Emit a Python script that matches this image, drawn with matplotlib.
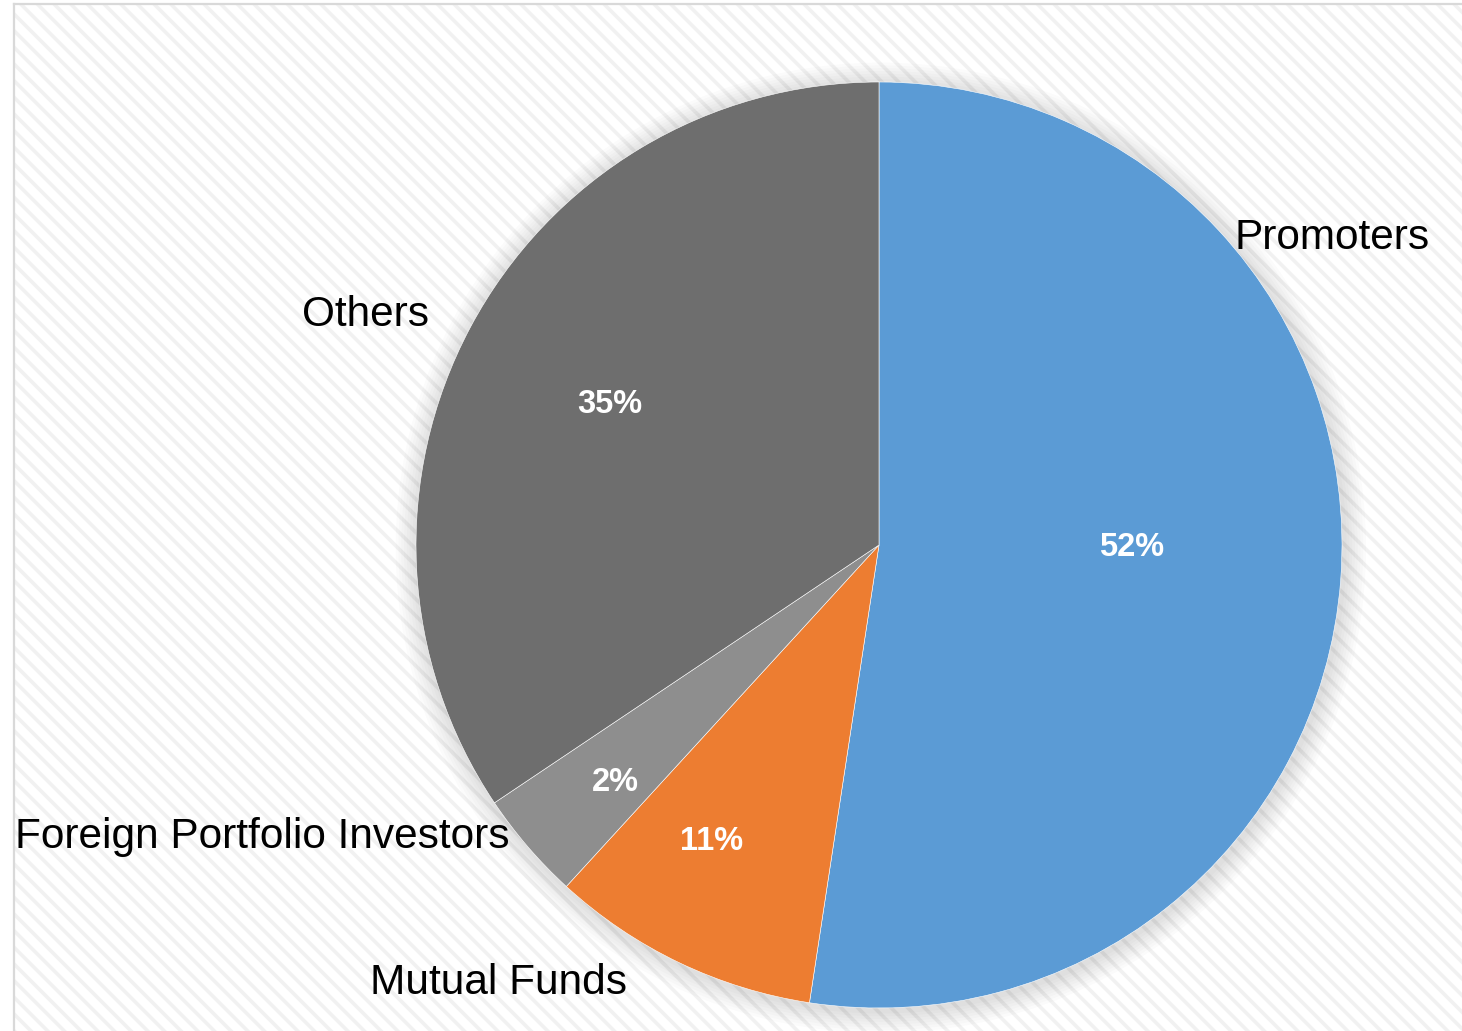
import matplotlib.pyplot as plt
from matplotlib.patches import Rectangle, Circle

# shareholding pattern
categories = ['Promoters', 'Mutual Funds', 'Foreign Portfolio Investors', 'Others']
shares = [52.4, 9.4, 3.8, 34.4]          # slice sizes as drawn
pct_labels = ['52%', '11%', '2%', '35%']  # printed labels
colors = ['#5B9BD5', '#ED7D31', '#8E8E8E', '#6E6E6E']

plt.rcParams['font.family'] = ['Liberation Sans', 'DejaVu Sans']
plt.rcParams['hatch.linewidth'] = 2.6

W, H = 1462, 1031
cx, cy, R = 879, 545, 463   # pie centre / radius in pixels

fig = plt.figure(figsize=(W / 100, H / 100), dpi=100)

# hatched background with light frame
bg = Rectangle((14 / W, 0), 1, 1 - 4 / H, transform=fig.transFigure,
               facecolor='white', edgecolor='#f1f1f1', hatch='\\\\',
               linewidth=0, zorder=-10)
fig.patches.append(bg)
fig.add_artist(plt.Line2D([13.5 / W, 13.5 / W], [0, 1 - 3.5 / H],
                          transform=fig.transFigure, color='#d9d9d9', lw=1.6, zorder=-5))
fig.add_artist(plt.Line2D([13.5 / W, 1], [1 - 3.5 / H, 1 - 3.5 / H],
                          transform=fig.transFigure, color='#d9d9d9', lw=1.6, zorder=-5))

ax = fig.add_axes([0, 0, 1, 1])
ax.set_zorder(5)
ax.patch.set_visible(False)

# soft shadow
for k in range(8):
    ax.add_patch(Circle((0.004, -0.006), 1.0 + 0.006 * (k + 1),
                        color='black', alpha=0.014, lw=0, zorder=1))

wedges, _ = ax.pie(shares, colors=colors, startangle=90, counterclock=False,
                   radius=1.0, center=(0, 0), frame=True,
                   wedgeprops=dict(edgecolor='white', linewidth=0.4, zorder=2))
ax.set_xlim(-cx / R, (W - cx) / R)
ax.set_ylim((cy - H) / R, cy / R)
ax.set_aspect('equal')
ax.axis('off')

# percentage labels inside slices
pct_pos = [(0.546, -0.005), (-0.361, -0.640), (-0.570, -0.512), (-0.581, 0.304)]
for lab, (x, y) in zip(pct_labels, pct_pos):
    ax.text(x, y, lab, ha='center', va='center', color='white',
            fontsize=23.5, fontweight='bold', zorder=5)

# category labels
ax.text(0.767, 0.663, categories[0], ha='left', va='center', fontsize=30.5, zorder=5)
ax.text(-0.821, -0.947, categories[1], ha='center', va='center', fontsize=30.5, zorder=5)
ax.text(-1.866, -0.631, categories[2], ha='left', va='center', fontsize=30.5, zorder=5)
ax.text(-1.108, 0.496, categories[3], ha='center', va='center', fontsize=30.5, zorder=5)

fig.savefig('out.png', dpi=100)
